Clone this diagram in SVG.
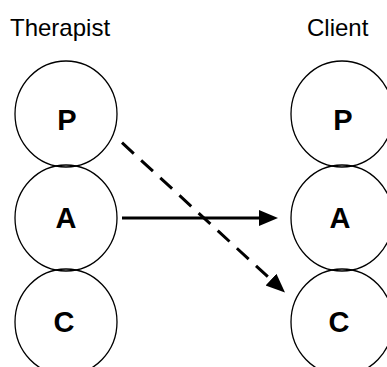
<svg xmlns="http://www.w3.org/2000/svg" width="387" height="367" viewBox="0 0 387 367">
  <style>
    .title { font-family: "Liberation Sans", "DejaVu Sans", sans-serif; font-size: 24px; fill: #000; }
    .ego { fill: none; stroke: #000; stroke-width: 1.3; }
    .lbl { font-family: "Liberation Sans", "DejaVu Sans", sans-serif; font-size: 29px; font-weight: bold; fill: #000; text-anchor: middle; }
    .conn { fill: none; stroke: #000; stroke-width: 3; }
    .dash { stroke-dasharray: 16 10; }
  </style>
  <defs>
    <marker id="head" markerUnits="userSpaceOnUse" markerWidth="20" markerHeight="18" refX="0" refY="8" orient="auto" viewBox="0 0 20 16">
      <path d="M0,0 L19,8 L0,16 Z" fill="#000" stroke="none"/>
    </marker>
  </defs>
  <rect width="387" height="367" fill="#fff"/>

  <g id="title-therapist"><text class="title" x="10" y="36">Therapist</text></g>
  <g id="title-client"><text class="title" x="307" y="36">Client</text></g>

  <g id="therapist-P">
    <ellipse class="ego" cx="66" cy="114" rx="51" ry="53"/>
    <text class="lbl" x="67" y="130">P</text>
  </g>
  <g id="therapist-A">
    <ellipse class="ego" cx="66" cy="218" rx="51" ry="53"/>
    <text class="lbl" x="66" y="228">A</text>
  </g>
  <g id="therapist-C">
    <ellipse class="ego" cx="66" cy="322" rx="51" ry="53"/>
    <text class="lbl" x="64" y="332">C</text>
  </g>

  <g id="client-P">
    <ellipse class="ego" cx="342" cy="114" rx="51" ry="53"/>
    <text class="lbl" x="343" y="130">P</text>
  </g>
  <g id="client-A">
    <ellipse class="ego" cx="342" cy="218" rx="51" ry="53"/>
    <text class="lbl" x="340" y="228">A</text>
  </g>
  <g id="client-C">
    <ellipse class="ego" cx="342" cy="322" rx="51" ry="53"/>
    <text class="lbl" x="339" y="332">C</text>
  </g>

  <g id="connectors">
    <line class="conn" x1="122" y1="218" x2="259" y2="218" marker-end="url(#head)"/>
    <line class="conn dash" x1="122" y1="142.7" x2="271" y2="279.6" marker-end="url(#head)"/>
  </g>
</svg>
